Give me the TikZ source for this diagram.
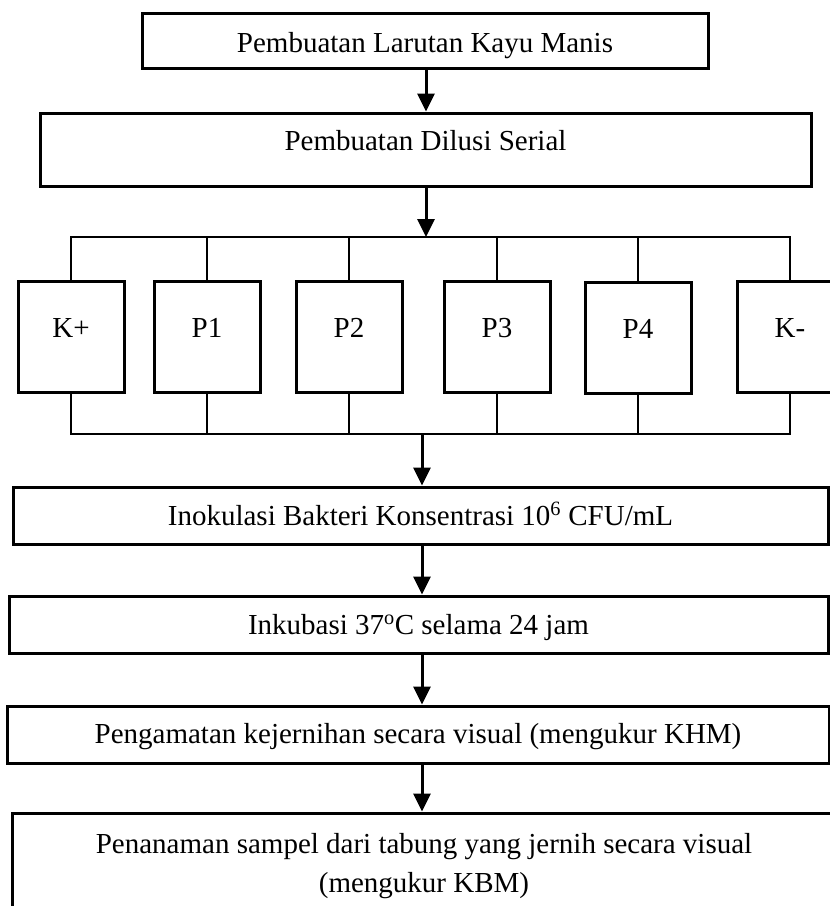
\documentclass[tikz,border=0pt]{standalone}
\usepackage{fontspec}
\setmainfont{Liberation Serif}
\usetikzlibrary{arrows.meta}
\tikzset{
  kotak/.style={draw,line width=3pt,inner sep=0pt,font=\fontsize{29}{39}\selectfont},
  baris/.style={kotak,text height=20pt,text depth=1pt},
  sampel/.style={kotak,minimum width=106pt,minimum height=111pt,text height=20pt,text depth=19pt},
  garis/.style={line width=2pt},
  panah/.style={line width=3pt,-{Triangle[width=17pt,length=18pt]}}
}

\begin{document}
\begin{tikzpicture}[x=1pt,y=-1pt]
\useasboundingbox (0,0) rectangle (830,906);
\clip (0,0) rectangle (830,906);
\node(larutan) at (425,40.5)[kotak,minimum width=566pt,minimum height=55pt,text height=31pt,text depth=6.6pt] {Pembuatan Larutan Kayu Manis};
\node(dilusi) at (425.5,149.5)[kotak,minimum width=771pt,minimum height=73pt,text height=20pt,text depth=19pt] {Pembuatan Dilusi Serial};
\node(kp) at (71,336.5)[sampel] {K+};
\node(p1) at (207,336.5)[sampel] {P1};
\node(p2) at (349,336.5)[sampel] {P2};
\node(p3) at (497,336.5)[sampel] {P3};
\node(p4) at (638,337.5)[sampel] {P4};
\node(km) at (790,336.5)[sampel] {K-};
\node(inokulasi) at (420.5,515.5)[baris,minimum width=815pt,minimum height=57pt] {Inokulasi Bakteri Konsentrasi 10\textsuperscript{6} CFU/mL};
\node(inkubasi) at (418.5,624.5)[baris,minimum width=819pt,minimum height=57pt] {Inkubasi 37\textsuperscript{o}C selama 24 jam};
\node(pengamatan) at (418,734.5)[baris,minimum width=822pt,minimum height=57pt,text depth=3pt] {Pengamatan kejernihan secara visual (mengukur KHM)};
\node(penanaman) at (424,866)[kotak,minimum width=824pt,minimum height=106pt,align=center] {Penanaman sampel dari tabung yang jernih secara visual\\(mengukur KBM)};
\coordinate(atas) at (426,237);
\coordinate(bawah) at (422,434);
\draw[panah] (larutan.south -| atas) -- (dilusi.north -| atas);
\draw[panah] (dilusi.south -| atas) -- (atas);
\draw[garis] (kp.north) -- (kp.north |- atas) -- (km.north |- atas) -- (km.north);
\foreach \n in {p1,p2,p3,p4} \draw[garis] (\n.north) -- (\n.north |- atas);
\draw[garis] (kp.south) -- (kp.south |- bawah) -- (km.south |- bawah) -- (km.south);
\foreach \n in {p1,p2,p3,p4} \draw[garis] (\n.south) -- (\n.south |- bawah);
\draw[panah] (bawah) -- (inokulasi.north -| bawah);
\draw[panah] (inokulasi.south -| bawah) -- (inkubasi.north -| bawah);
\draw[panah] (inkubasi.south -| bawah) -- (pengamatan.north -| bawah);
\draw[panah] (pengamatan.south -| bawah) -- (penanaman.north -| bawah);
\end{tikzpicture}
\end{document}
